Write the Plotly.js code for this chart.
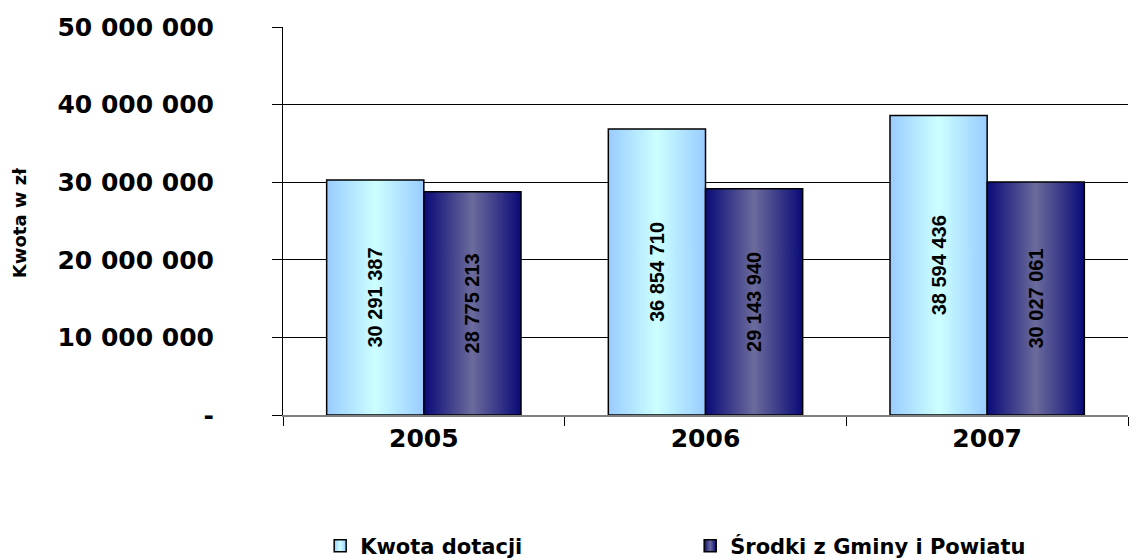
<!DOCTYPE html>
<html>
<head>
<meta charset="utf-8">
<script src="https://cdn.plot.ly/plotly-3.0.1.min.js"></script>
<style>html,body{margin:0;padding:0;background:#fff;}</style>
</head>
<body>
<div id="chart" style="width:1138px;height:560px;"></div>
<script>
const years = ['2005', '2006', '2007'];
const kwotaDotacji = [30291387, 36854710, 38594436];
const srodkiGminy = [28775213, 29143940, 30027061];
const seriesNames = ['Kwota dotacji', 'Środki z Gminy i Powiatu'];
const yTitle = 'Kwota w zł';
const yTickVals = [0, 10000000, 20000000, 30000000, 40000000, 50000000];
const yTickText = ['-', '10 000 000', '20 000 000', '30 000 000', '40 000 000', '50 000 000'];

function fmt(v) {
  return String(v).replace(/\B(?=(\d{3})+(?!\d))/g, ' ');
}

const labelFont = {family: 'Liberation Sans, Arial, sans-serif', size: 20, color: '#000', weight: 'bold'};

const traces = [
  {
    type: 'bar', name: seriesNames[0], x: years, y: kwotaDotacji,
    text: kwotaDotacji.map(fmt), textposition: 'inside', textangle: -90,
    insidetextanchor: 'middle', constraintext: 'none', textfont: labelFont,
    marker: {color: '#B8E6FF', line: {color: '#000', width: 1.5}},
    hoverinfo: 'none'
  },
  {
    type: 'bar', name: seriesNames[1], x: years, y: srodkiGminy,
    text: srodkiGminy.map(fmt), textposition: 'inside', textangle: -90,
    insidetextanchor: 'middle', constraintext: 'none', textfont: labelFont,
    marker: {color: '#3C3C88', line: {color: '#000', width: 1.5}},
    hoverinfo: 'none'
  }
];

const bold = 'DejaVu Sans, sans-serif';
const layout = {
  width: 1138, height: 560,
  margin: {l: 283, r: 10, t: 27, b: 145, autoexpand: false},
  paper_bgcolor: '#fff', plot_bgcolor: '#fff',
  barmode: 'group', bargap: 0.31, bargroupgap: 0,
  font: {family: bold, color: '#000'},
  xaxis: {
    type: 'category', tickson: 'boundaries', ticks: 'outside', ticklen: 9,
    tickcolor: '#000', tickwidth: 1,
    showline: true, linecolor: '#808080', linewidth: 2,
    showgrid: false, automargin: false,
    tickfont: {family: bold, size: 25, color: '#000', weight: 'bold'}
  },
  yaxis: {
    range: [0, 50000000], tickvals: yTickVals, ticktext: yTickText,
    ticks: 'outside', ticklen: 10, tickcolor: '#000', tickwidth: 1,
    showline: true, linecolor: '#000', linewidth: 1,
    showgrid: true, gridcolor: '#000', gridwidth: 1, zeroline: false,
    ticklabelstandoff: 53, automargin: false,
    tickfont: {family: bold, size: 25, color: '#000', weight: 'bold'}
  },
  annotations: [{
    text: yTitle, xref: 'paper', yref: 'paper', x: -0.311, y: 0.495,
    xanchor: 'center', yanchor: 'middle', textangle: -90, showarrow: false,
    font: {family: bold, size: 18, color: '#000', weight: 'bold'}
  }],
  showlegend: true,
  legend: {
    orientation: 'h', x: 0.044, xanchor: 'left', y: -0.338, yanchor: 'middle',
    entrywidth: 325, entrywidthmode: 'pixels',
    font: {family: bold, size: 21, color: '#000', weight: 'bold'},
    itemclick: false, itemdoubleclick: false
  }
};

Plotly.newPlot('chart', traces, layout, {displayModeBar: false, staticPlot: true}).then(function (gd) {
  const svg = gd.querySelector('svg.main-svg');
  const ns = 'http://www.w3.org/2000/svg';
  let defs = svg.querySelector('defs');
  if (!defs) { defs = document.createElementNS(ns, 'defs'); svg.insertBefore(defs, svg.firstChild); }
  function grad(id, edge, center) {
    const lg = document.createElementNS(ns, 'linearGradient');
    lg.setAttribute('id', id);
    lg.setAttribute('x1', '0'); lg.setAttribute('y1', '0');
    lg.setAttribute('x2', '1'); lg.setAttribute('y2', '0');
    [[0, edge], [0.5, center], [1, edge]].forEach(function (s) {
      const st = document.createElementNS(ns, 'stop');
      st.setAttribute('offset', s[0]);
      st.setAttribute('stop-color', s[1]);
      lg.appendChild(st);
    });
    defs.appendChild(lg);
  }
  grad('gLight', '#99CCFF', '#CCFFFF');
  grad('gDark', '#0A0A78', '#6B6B9C');
  const ids = ['gLight', 'gDark'];
  gd.querySelectorAll('.barlayer .trace.bars').forEach(function (tr, i) {
    tr.querySelectorAll('path').forEach(function (p) { p.style.fill = 'url(#' + ids[i] + ')'; });
  });
  gd.querySelectorAll('.legend .traces').forEach(function (tr, i) {
    tr.querySelectorAll('.legendpoints path').forEach(function (p) {
      p.style.fill = 'url(#' + ids[i] + ')';
    });
  });
});
</script>
</body>
</html>
